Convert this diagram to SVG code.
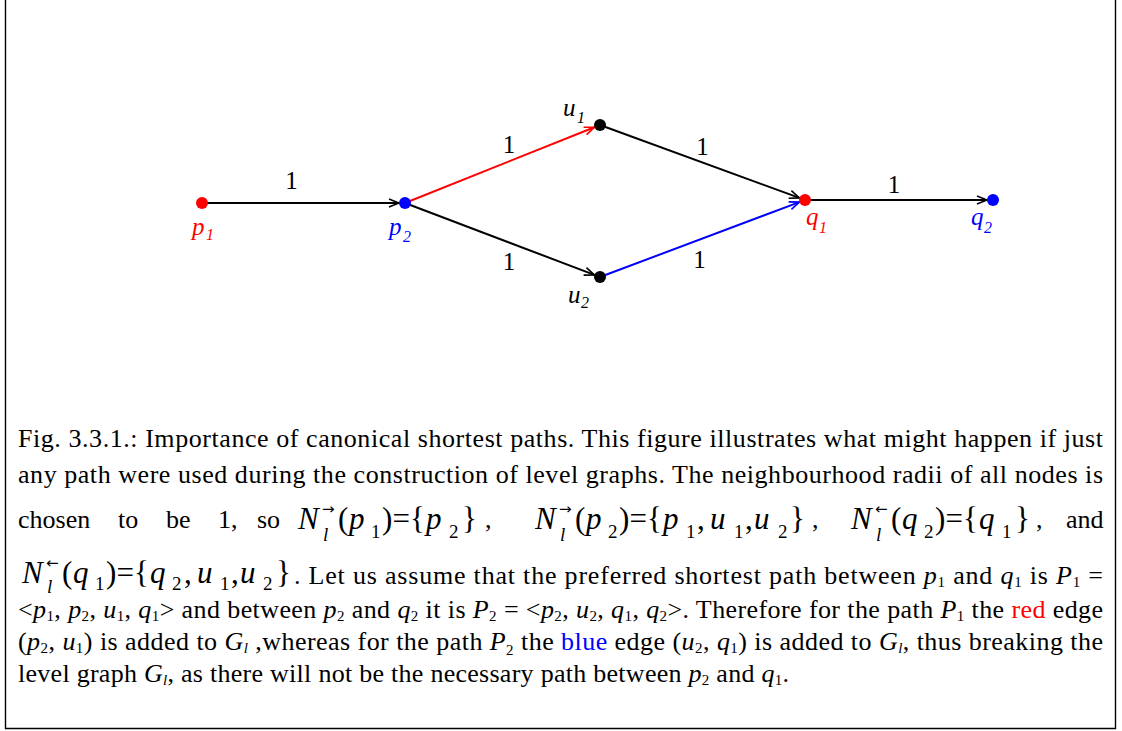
<svg xmlns="http://www.w3.org/2000/svg" width="1122" height="731" viewBox="0 0 1122 731">
<style>
.cap{font-family:"Liberation Serif",serif;font-size:26px;fill:#000}
.i{font-style:italic}
.s{font-size:15px}
.m{font-family:"Liberation Serif",serif;font-size:31px;fill:#000}
.mi{font-family:"Liberation Serif",serif;font-size:31px;font-style:italic;fill:#000}
.ms{font-family:"Liberation Serif",serif;font-size:19px;fill:#000}
.ml{font-family:"Liberation Serif",serif;font-size:19px;font-style:italic;fill:#000}
.ar{font-family:"DejaVu Sans",sans-serif;font-size:15px;fill:#000}
.nl{font-family:"Liberation Serif",serif;font-size:25px;font-style:italic}
.ns{font-size:16px}
.el{font-family:"Liberation Serif",serif;font-size:25px;fill:#000;text-anchor:middle}
.e{stroke-width:2;fill:none}
</style>
<defs>
<marker id="ak" markerUnits="userSpaceOnUse" markerWidth="14" markerHeight="12" refX="12" refY="6" orient="auto"><path d="M2,2 L12,6 L2,10" fill="none" stroke="#000" stroke-width="1.6"/></marker>
<marker id="ar" markerUnits="userSpaceOnUse" markerWidth="14" markerHeight="12" refX="12" refY="6" orient="auto"><path d="M2,2 L12,6 L2,10" fill="none" stroke="#f00" stroke-width="1.6"/></marker>
<marker id="ab" markerUnits="userSpaceOnUse" markerWidth="14" markerHeight="12" refX="12" refY="6" orient="auto"><path d="M2,2 L12,6 L2,10" fill="none" stroke="#00f" stroke-width="1.6"/></marker>
</defs>
<rect width="1122" height="731" fill="#fff"/>
<path d="M5.5,0 V728.5 H1115.5 V0" fill="none" stroke="#000" stroke-width="1.4"/>
<g id="connectors">
<line class="e" x1="202" y1="203" x2="399" y2="203" stroke="#000" marker-end="url(#ak)"/>
<line class="e" x1="405" y1="203" x2="594.4" y2="127.2" stroke="#f00" marker-end="url(#ar)"/>
<line class="e" x1="405" y1="203" x2="594.4" y2="274.9" stroke="#000" marker-end="url(#ak)"/>
<line class="e" x1="600" y1="125" x2="799.4" y2="197.9" stroke="#000" marker-end="url(#ak)"/>
<line class="e" x1="600" y1="277" x2="799.4" y2="202.1" stroke="#00f" marker-end="url(#ab)"/>
<line class="e" x1="805" y1="200" x2="987" y2="200" stroke="#000" marker-end="url(#ak)"/>
<text class="el" x="291.5" y="189">1</text>
<text class="el" x="509" y="153">1</text>
<text class="el" x="509" y="270">1</text>
<text class="el" x="702.5" y="155">1</text>
<text class="el" x="699.5" y="268">1</text>
<text class="el" x="894" y="193">1</text>
</g>
<g id="p1"><circle cx="202" cy="203" r="6" fill="#f00"/><text class="nl" x="192" y="234.5" fill="#f00">p<tspan class="ns" x="206" y="240">1</tspan></text></g>
<g id="p2"><circle cx="405" cy="203" r="6" fill="#00f"/><text class="nl" x="389" y="234.5" fill="#00f">p<tspan class="ns" x="403" y="242">2</tspan></text></g>
<g id="u1"><circle cx="600" cy="125" r="6" fill="#000"/><text class="nl" x="563" y="116" fill="#000">u<tspan class="ns" x="577" y="123">1</tspan></text></g>
<g id="u2"><circle cx="600" cy="277" r="6" fill="#000"/><text class="nl" x="568" y="303" fill="#000">u<tspan class="ns" x="581" y="308">2</tspan></text></g>
<g id="q1"><circle cx="805" cy="200" r="6" fill="#f00"/><text class="nl" x="806" y="225" fill="#f00">q<tspan class="ns" x="819" y="233">1</tspan></text></g>
<g id="q2"><circle cx="993" cy="200" r="6" fill="#00f"/><text class="nl" x="971" y="225" fill="#00f">q<tspan class="ns" x="984" y="233">2</tspan></text></g>
<g id="caption">
<text class="cap" x="18" y="447" textLength="1085" lengthAdjust="spacing">Fig. 3.3.1.: Importance of canonical shortest paths. This figure illustrates what might happen if just</text>
<text class="cap" x="18" y="483" textLength="1085" lengthAdjust="spacing">any path were used during the construction of level graphs. The neighbourhood radii of all nodes is</text>
<text class="cap" y="528"><tspan x="18">chosen</tspan><tspan x="118">to</tspan><tspan x="166">be</tspan><tspan x="218">1,</tspan><tspan x="257">so</tspan></text>
<g id="math1">
<text class="mi" x="298" y="529">N</text><text class="ar" x="322" y="514">→</text><text class="ml" x="323" y="541">l</text>
<text class="m" x="338" y="529">(</text><text class="mi" x="349" y="529">p</text><text class="ms" x="371" y="538">1</text><text class="m" x="382" y="529">)</text><text class="m" x="392.5" y="529">=</text><text class="m" x="410" y="529">{</text><text class="mi" x="426" y="529">p</text><text class="ms" x="449" y="538">2</text><text class="m" x="462" y="529">}</text>
</g>
<text class="cap" x="485" y="528">,</text>
<g id="math2">
<text class="mi" x="535" y="529">N</text><text class="ar" x="559" y="514">→</text><text class="ml" x="560" y="541">l</text>
<text class="m" x="575" y="529">(</text><text class="mi" x="586" y="529">p</text><text class="ms" x="608" y="538">2</text><text class="m" x="619" y="529">)</text><text class="m" x="629.5" y="529">=</text><text class="m" x="647" y="529">{</text><text class="mi" x="663" y="529">p</text><text class="ms" x="686" y="538">1</text><text class="m" x="697" y="529">,</text><text class="mi" x="710" y="529">u</text><text class="ms" x="734" y="538">1</text><text class="m" x="745" y="529">,</text><text class="mi" x="754" y="529">u</text><text class="ms" x="778" y="538">2</text><text class="m" x="790" y="529">}</text>
</g>
<text class="cap" x="812" y="528">,</text>
<g id="math3">
<text class="mi" x="851" y="529">N</text><text class="ar" x="875" y="514">←</text><text class="ml" x="876" y="541">l</text>
<text class="m" x="891" y="529">(</text><text class="mi" x="902" y="529">q</text><text class="ms" x="924" y="538">2</text><text class="m" x="935" y="529">)</text><text class="m" x="945.5" y="529">=</text><text class="m" x="963" y="529">{</text><text class="mi" x="979" y="529">q</text><text class="ms" x="1002" y="538">1</text><text class="m" x="1015" y="529">}</text>
</g>
<text class="cap" x="1036" y="528">,</text>
<text class="cap" x="1066" y="528">and</text>
<g id="math4">
<text class="mi" x="22" y="583">N</text><text class="ar" x="46" y="568">←</text><text class="ml" x="47" y="593">l</text>
<text class="m" x="62" y="583">(</text><text class="mi" x="73" y="583">q</text><text class="ms" x="95" y="590">1</text><text class="m" x="106" y="583">)</text><text class="m" x="116.5" y="583">=</text><text class="m" x="134" y="583">{</text><text class="mi" x="150" y="583">q</text><text class="ms" x="172" y="590">2</text><text class="m" x="184" y="583">,</text><text class="mi" x="197" y="583">u</text><text class="ms" x="220" y="590">1</text><text class="m" x="231" y="583">,</text><text class="mi" x="240" y="583">u</text><text class="ms" x="263" y="590">2</text><text class="m" x="276" y="583">}</text>
</g>
<text class="cap" x="294" y="584" textLength="809" lengthAdjust="spacing">. Let us assume that the preferred shortest path between <tspan class="i">p</tspan><tspan class="s" dy="3">1</tspan><tspan dy="-3"> and </tspan><tspan class="i">q</tspan><tspan class="s" dy="3">1</tspan><tspan dy="-3"> is </tspan><tspan class="i">P</tspan><tspan class="s" dy="3">1</tspan><tspan dy="-3"> =</tspan></text>
<text class="cap" x="18" y="618" textLength="1085" lengthAdjust="spacing">&lt;<tspan class="i">p</tspan><tspan class="s" dy="3">1</tspan><tspan dy="-3">, </tspan><tspan class="i">p</tspan><tspan class="s" dy="3">2</tspan><tspan dy="-3">, </tspan><tspan class="i">u</tspan><tspan class="s" dy="3">1</tspan><tspan dy="-3">, </tspan><tspan class="i">q</tspan><tspan class="s" dy="3">1</tspan><tspan dy="-3">&gt; and between </tspan><tspan class="i">p</tspan><tspan class="s" dy="3">2</tspan><tspan dy="-3"> and </tspan><tspan class="i">q</tspan><tspan class="s" dy="3">2</tspan><tspan dy="-3"> it is </tspan><tspan class="i">P</tspan><tspan class="s" dy="3">2</tspan><tspan dy="-3"> = &lt;</tspan><tspan class="i">p</tspan><tspan class="s" dy="3">2</tspan><tspan dy="-3">, </tspan><tspan class="i">u</tspan><tspan class="s" dy="3">2</tspan><tspan dy="-3">, </tspan><tspan class="i">q</tspan><tspan class="s" dy="3">1</tspan><tspan dy="-3">, </tspan><tspan class="i">q</tspan><tspan class="s" dy="3">2</tspan><tspan dy="-3">&gt;. Therefore for the path </tspan><tspan class="i">P</tspan><tspan class="s" dy="3">1</tspan><tspan dy="-3"> the </tspan><tspan fill="#f00">red</tspan> edge</text>
<text class="cap" x="18" y="650" textLength="1085" lengthAdjust="spacing">(<tspan class="i">p</tspan><tspan class="s" dy="3">2</tspan><tspan dy="-3">, </tspan><tspan class="i">u</tspan><tspan class="s" dy="3">1</tspan><tspan dy="-3">) is added to </tspan><tspan class="i">G</tspan><tspan class="s i" dy="3">l</tspan><tspan dy="-3"> ,whereas for the path </tspan><tspan class="i">P</tspan><tspan class="s" dy="5">2</tspan><tspan dy="-5">  the </tspan><tspan fill="#00f">blue</tspan> edge (<tspan class="i">u</tspan><tspan class="s" dy="3">2</tspan><tspan dy="-3">, </tspan><tspan class="i">q</tspan><tspan class="s" dy="3">1</tspan><tspan dy="-3">) is added to </tspan><tspan class="i">G</tspan><tspan class="s i" dy="3">l</tspan><tspan dy="-3">, thus breaking the</tspan></text>
<text class="cap" x="18" y="682" textLength="771" lengthAdjust="spacing">level graph <tspan class="i">G</tspan><tspan class="s i" dy="3">l</tspan><tspan dy="-3">, as there will not be the necessary path between </tspan><tspan class="i">p</tspan><tspan class="s" dy="3">2</tspan><tspan dy="-3"> and </tspan><tspan class="i">q</tspan><tspan class="s" dy="3">1</tspan><tspan dy="-3">.</tspan></text>
</g>
</svg>
